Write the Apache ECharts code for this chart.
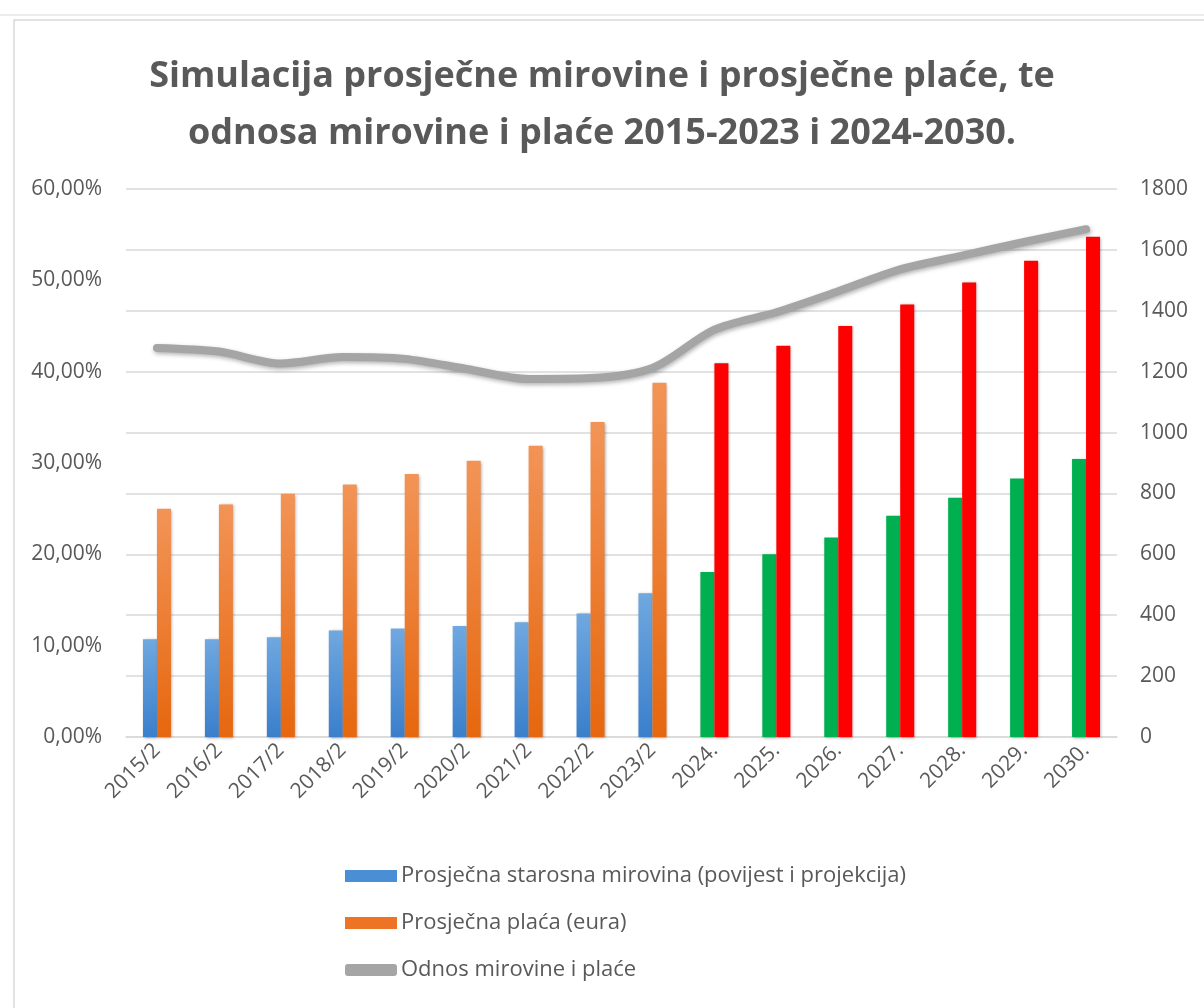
<!DOCTYPE html>
<html>
<head>
<meta charset="utf-8">
<script src="https://cdn.jsdelivr.net/npm/echarts@6/dist/echarts.min.js"></script>
<style>
  html, body { margin: 0; padding: 0; background: #fff; }
  #chart { width: 1204px; height: 1008px; }
</style>
</head>
<body>
<div id="chart"></div>
<script>
// categories and values
const years = ['2015/2', '2016/2', '2017/2', '2018/2', '2019/2', '2020/2', '2021/2', '2022/2', '2023/2',
    '2024.', '2025.', '2026.', '2027.', '2028.', '2029.', '2030.'];
const pension = [321, 321, 328, 350, 356, 365, 377, 406, 472, 542, 600, 655, 727, 786, 849, 913];
const wage = [750, 764, 799, 829, 864, 907, 957, 1035, 1164, 1228, 1285, 1350, 1421, 1493, 1564, 1643];
const ratio = [42.6, 42.2, 40.9, 41.6, 41.4, 40.3, 39.2, 39.3, 40.4, 44.6, 46.5, 48.8, 51.2, 52.7, 54.2, 55.6];
const firstProjection = 9; // 2024. onwards drawn in green / red

const names = ['Prosječna starosna mirovina (povijest i projekcija)', 'Prosječna plaća (eura)', 'Odnos mirovine i plaće'];

const grad = (top, bottom) => new echarts.graphic.LinearGradient(0, 0, 0, 1, [
    { offset: 0, color: top }, { offset: 1, color: bottom }
]);
const blue = grad('#70a8e0', '#3a7fcb');
const orange = grad('#f29457', '#e6670e');
const barShadow = { shadowBlur: 3, shadowColor: 'rgba(0,0,0,0.35)', shadowOffsetX: 1, shadowOffsetY: 1 };

const pensionData = pension.map((v, i) => ({
    value: v,
    itemStyle: { color: i < firstProjection ? blue : '#00b050', ...barShadow }
}));
const wageData = wage.map((v, i) => ({
    value: v,
    itemStyle: { color: i < firstProjection ? orange : '#ff0000', ...barShadow }
}));

const txt = '#595959';
const font = 'Open Sans';

let myChart = echarts.init(document.getElementById('chart'));
let option = {
    animation: false,
    backgroundColor: '#fff',
    graphic: [
        { type: 'line', shape: { x1: 0, y1: 15, x2: 1204, y2: 15 }, style: { stroke: '#d9d9d9', lineWidth: 1 } },
        { type: 'rect', shape: { x: 14, y: 20, width: 1200, height: 1000 }, style: { fill: 'none', stroke: '#d9d9d9', lineWidth: 1.5 } }
    ],
    title: {
        text: 'Simulacija prosječne mirovine i prosječne plaće, te\nodnosa mirovine i plaće 2015-2023 i 2024-2030.',
        left: 'center',
        top: 43,
        textStyle: { fontFamily: font, fontWeight: 'bold', fontSize: 36, lineHeight: 57, color: txt }
    },
    legend: {
        orient: 'vertical',
        left: 340,
        top: 860,
        itemGap: 25,
        itemWidth: 52,
        itemHeight: 12,
        textStyle: { fontFamily: font, fontSize: 22, color: txt, padding: [0, 0, 0, -1] },
        data: [
            { name: names[0], icon: 'rect', itemStyle: { color: '#4a8fd6' } },
            { name: names[1], icon: 'rect', itemStyle: { color: '#ec7424' } },
            { name: names[2], icon: 'roundRect', itemStyle: { color: '#a5a5a5' } }
        ]
    },
    grid: { left: 126, right: 87, top: 189, bottom: 271 },
    xAxis: {
        type: 'category',
        data: years,
        axisLine: { lineStyle: { color: '#d9d9d9', width: 1.5 } },
        axisTick: { show: false },
        axisLabel: { rotate: 45, fontFamily: font, fontSize: 21, color: txt, margin: 10, interval: 0 }
    },
    yAxis: [
        {
            type: 'value',
            min: 0, max: 60, interval: 10,
            splitLine: { show: false },
            axisLabel: {
                fontFamily: font, fontSize: 21, color: txt, margin: 24,
                formatter: v => v.toFixed(2).replace('.', ',') + '%'
            }
        },
        {
            type: 'value',
            min: 0, max: 1800, interval: 200,
            position: 'right',
            splitLine: { lineStyle: { color: '#d9d9d9', width: 1.5 } },
            axisLabel: { fontFamily: font, fontSize: 21, color: txt, margin: 23, formatter: v => String(v) }
        }
    ],
    series: [
        {
            name: names[0], type: 'bar', yAxisIndex: 1,
            barWidth: 14, barGap: '0%',
            itemStyle: { color: '#4a8fd6' },
            data: pensionData
        },
        {
            name: names[1], type: 'bar', yAxisIndex: 1,
            barWidth: 14, barGap: '0%',
            itemStyle: { color: '#ec7424' },
            data: wageData
        },
        {
            name: names[2], type: 'line', yAxisIndex: 0,
            smooth: 0.3, symbol: 'none', z: 5,
            lineStyle: { color: '#a5a5a5', width: 8, cap: 'round', join: 'round',
                shadowBlur: 4, shadowColor: 'rgba(0,0,0,0.3)', shadowOffsetX: 1, shadowOffsetY: 2 },
            itemStyle: { color: '#a5a5a5' },
            data: ratio
        }
    ]
};
myChart.setOption(option);
window.addEventListener('resize', myChart.resize);
</script>
</body>
</html>
